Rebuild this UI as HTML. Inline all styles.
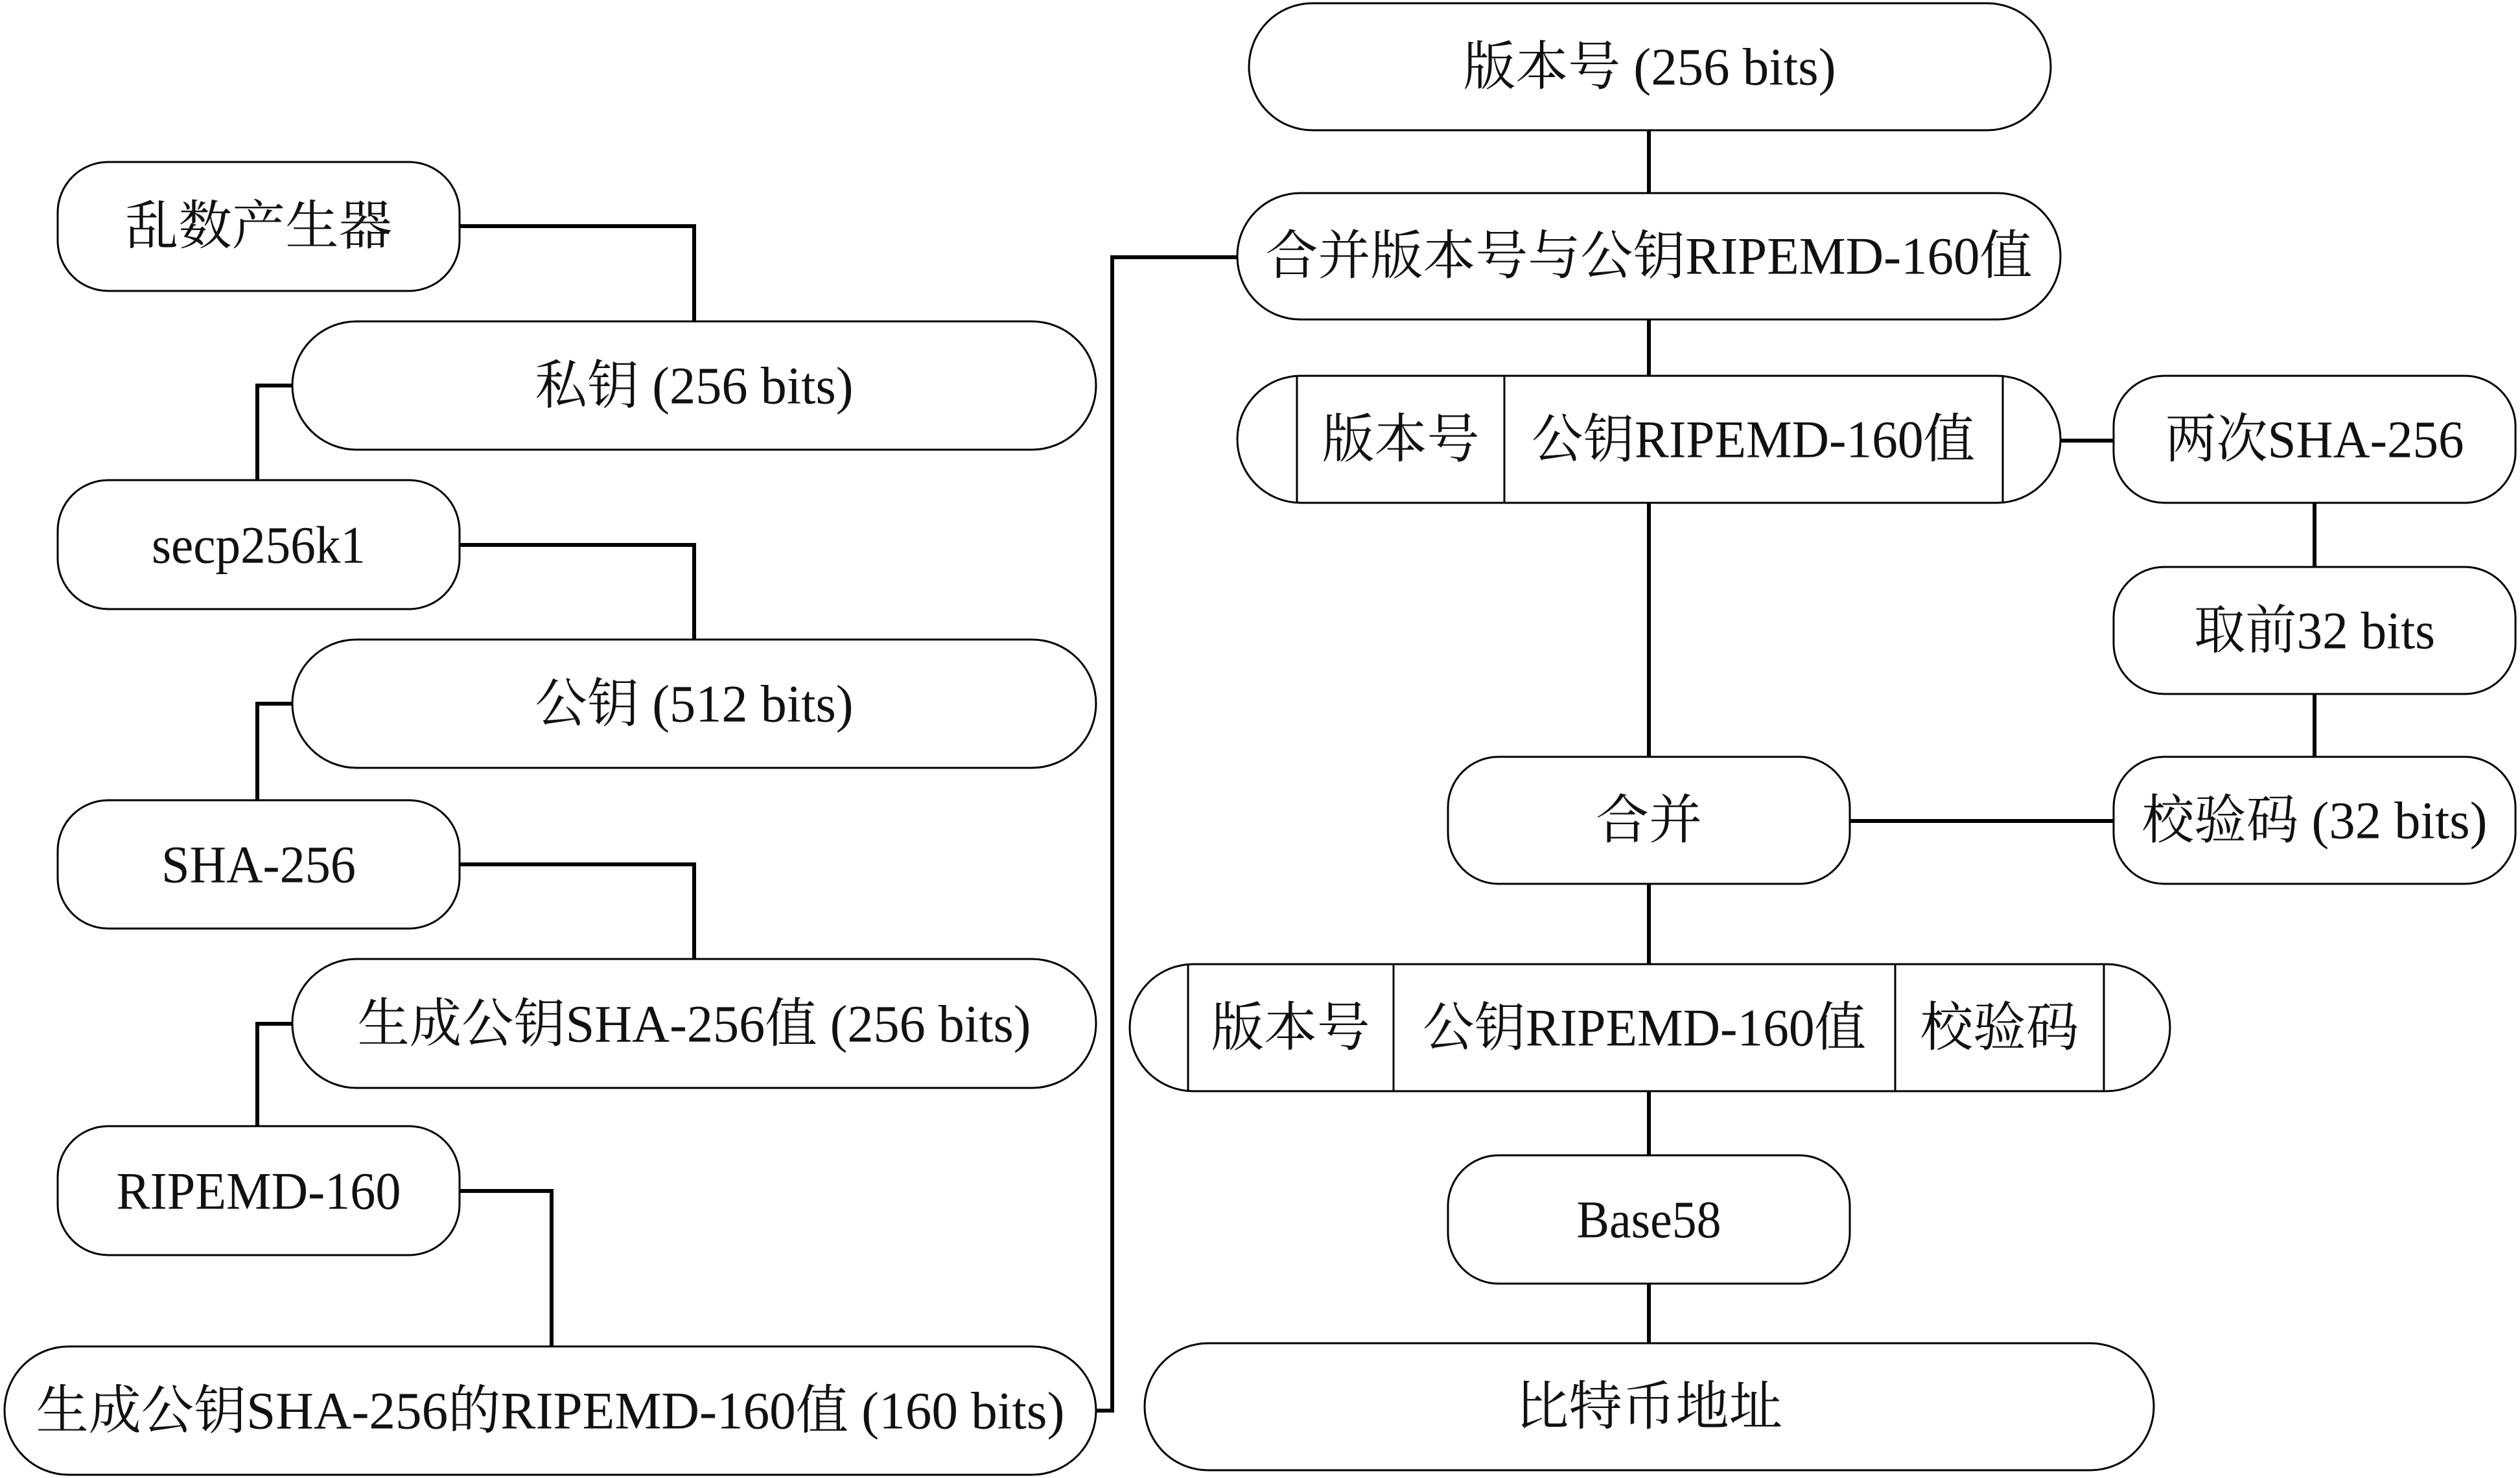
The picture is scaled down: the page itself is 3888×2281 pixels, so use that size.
<!DOCTYPE html>
<html><head><meta charset="utf-8"><style>
html,body{margin:0;padding:0;background:#fff;}
svg{display:block;}
text{font-family:"Liberation Serif","Noto Serif CJK SC",serif;font-size:82px;fill:#111;}
</style></head><body>
<svg width="3888" height="2281" viewBox="0 0 3888 2281" xmlns="http://www.w3.org/2000/svg">
<g fill="none" stroke="#000" stroke-width="6">
<polyline points="709,349 1071,349 1071,496"/>
<polyline points="451,595 397,595 397,741"/>
<polyline points="709,841 1071,841 1071,987"/>
<polyline points="451,1086 397,1086 397,1235"/>
<polyline points="709,1334 1071,1334 1071,1480"/>
<polyline points="451,1580 397,1580 397,1738"/>
<polyline points="709,1838 851,1838 851,2078"/>
<polyline points="1691,2177 1716,2177 1716,397 1909,397"/>
<line x1="2544" y1="201" x2="2544" y2="298"/>
<line x1="2544" y1="493" x2="2544" y2="580"/>
<line x1="2544" y1="776" x2="2544" y2="1168"/>
<line x1="2544" y1="1364" x2="2544" y2="1488"/>
<line x1="2544" y1="1684" x2="2544" y2="1783"/>
<line x1="2544" y1="1981" x2="2544" y2="2073"/>
<line x1="3179" y1="680" x2="3261" y2="680"/>
<line x1="3571" y1="776" x2="3571" y2="875"/>
<line x1="3571" y1="1071" x2="3571" y2="1168"/>
<line x1="2854" y1="1267" x2="3261" y2="1267"/>
</g>
<g fill="#fff" stroke="#000" stroke-width="3">
<rect x="89" y="250" width="620" height="199" rx="78"/>
<rect x="451" y="496" width="1240" height="198" rx="99"/>
<rect x="89" y="741" width="620" height="199" rx="78"/>
<rect x="451" y="987" width="1240" height="198" rx="99"/>
<rect x="89" y="1235" width="620" height="198" rx="78"/>
<rect x="451" y="1480" width="1240" height="199" rx="99"/>
<rect x="89" y="1738" width="620" height="199" rx="78"/>
<rect x="7" y="2078" width="1684" height="198" rx="99"/>
<rect x="1927" y="5" width="1237" height="196" rx="98"/>
<rect x="1909" y="298" width="1270" height="195" rx="97"/>
<rect x="1909" y="580" width="1270" height="196" rx="98"/>
<rect x="3261" y="580" width="620" height="196" rx="78"/>
<rect x="3261" y="875" width="620" height="196" rx="78"/>
<rect x="3261" y="1168" width="620" height="196" rx="78"/>
<rect x="2234" y="1168" width="620" height="196" rx="78"/>
<rect x="1743" y="1488" width="1605" height="196" rx="98"/>
<rect x="2234" y="1783" width="620" height="198" rx="78"/>
<rect x="1766" y="2073" width="1557" height="196" rx="98"/>
</g>
<g stroke="#000" stroke-width="3">
<line x1="2001" y1="580" x2="2001" y2="776"/>
<line x1="2321" y1="580" x2="2321" y2="776"/>
<line x1="3090" y1="580" x2="3090" y2="776"/>
<line x1="1833" y1="1488" x2="1833" y2="1684"/>
<line x1="2150" y1="1488" x2="2150" y2="1684"/>
<line x1="2924" y1="1488" x2="2924" y2="1684"/>
<line x1="3246" y1="1488" x2="3246" y2="1684"/>
</g>
<g text-anchor="middle" dominant-baseline="central" lengthAdjust="spacingAndGlyphs">
<text x="399" y="349" textLength="412" lengthAdjust="spacingAndGlyphs">乱数产生器</text>
<text x="1071" y="595" textLength="491" lengthAdjust="spacingAndGlyphs">私钥 (256 bits)</text>
<text x="399" y="841" textLength="330" lengthAdjust="spacingAndGlyphs">secp256k1</text>
<text x="1071" y="1086" textLength="491" lengthAdjust="spacingAndGlyphs">公钥 (512 bits)</text>
<text x="399" y="1334" textLength="300" lengthAdjust="spacingAndGlyphs">SHA-256</text>
<text x="1071" y="1580" textLength="1039" lengthAdjust="spacingAndGlyphs">生成公钥SHA-256值 (256 bits)</text>
<text x="399" y="1838" textLength="439" lengthAdjust="spacingAndGlyphs">RIPEMD-160</text>
<text x="849" y="2177" textLength="1587" lengthAdjust="spacingAndGlyphs">生成公钥SHA-256的RIPEMD-160值 (160 bits)</text>
<text x="2545" y="103" textLength="575" lengthAdjust="spacingAndGlyphs">版本号 (256 bits)</text>
<text x="2544" y="395" textLength="1183" lengthAdjust="spacingAndGlyphs">合并版本号与公钥RIPEMD-160值</text>
<text x="2161" y="678" textLength="243" lengthAdjust="spacingAndGlyphs">版本号</text>
<text x="2705" y="678" textLength="684" lengthAdjust="spacingAndGlyphs">公钥RIPEMD-160值</text>
<text x="3571" y="678" textLength="461" lengthAdjust="spacingAndGlyphs">两次SHA-256</text>
<text x="3571" y="973" textLength="372" lengthAdjust="spacingAndGlyphs">取前32 bits</text>
<text x="3571" y="1266" textLength="533" lengthAdjust="spacingAndGlyphs">校验码 (32 bits)</text>
<text x="2544" y="1266" textLength="164" lengthAdjust="spacingAndGlyphs">合并</text>
<text x="1991" y="1586" textLength="245" lengthAdjust="spacingAndGlyphs">版本号</text>
<text x="2537" y="1586" textLength="684" lengthAdjust="spacingAndGlyphs">公钥RIPEMD-160值</text>
<text x="3085" y="1586" textLength="245" lengthAdjust="spacingAndGlyphs">校验码</text>
<text x="2544" y="1882" textLength="223" lengthAdjust="spacingAndGlyphs">Base58</text>
<text x="2544" y="2171" textLength="412" lengthAdjust="spacingAndGlyphs">比特币地址</text>
</g>
</svg>
</body></html>
